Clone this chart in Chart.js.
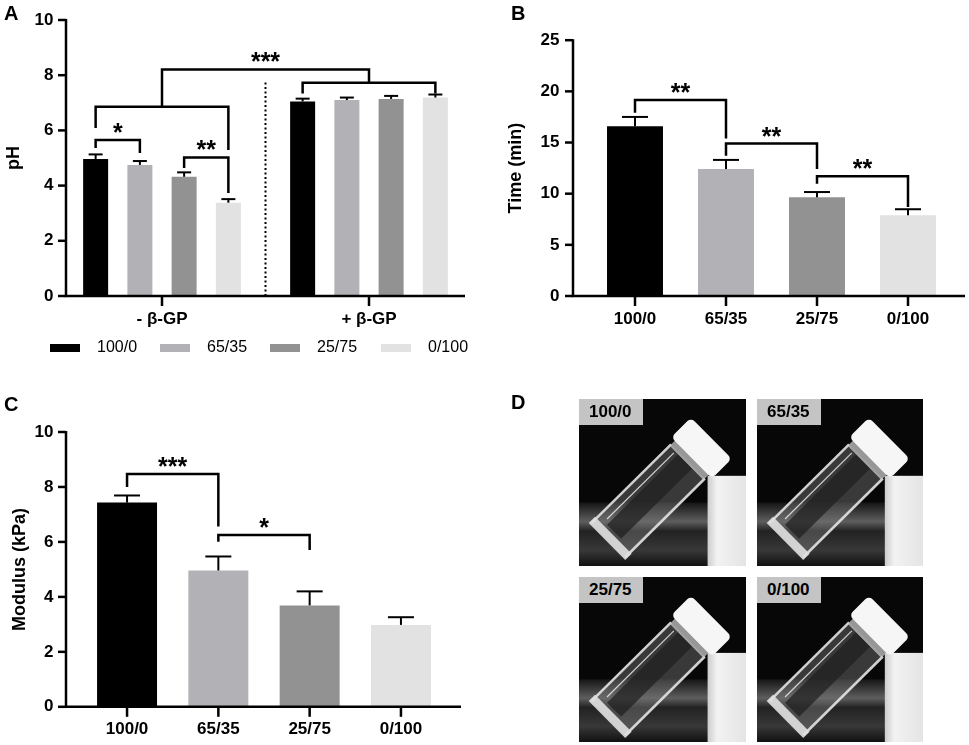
<!DOCTYPE html>
<html>
<head>
<meta charset="utf-8">
<script src="https://cdn.jsdelivr.net/npm/chart.js@4.4.0/dist/chart.umd.min.js"></script>
<style>
  body { margin: 0; background: #fff; }
  #fig { position: relative; width: 969px; height: 745px; overflow: hidden; font-family: 'Liberation Sans', Arial, sans-serif; }
  canvas { position: absolute; }
  .letter { position: absolute; font-weight: bold; font-size: 20px; line-height: 20px; color: #000; }
  .tag { position: absolute; background: #c4c4c4; font-weight: bold; font-size: 17px; line-height: 26px; height: 26px; width: 64px; padding-left: 10px; box-sizing: border-box; color: #000; }
</style>
</head>
<body>
<div id="fig">
  <canvas id="chartA" width="480" height="375" style="left:0;top:0"></canvas>
  <canvas id="chartB" width="489" height="375" style="left:480px;top:0"></canvas>
  <canvas id="chartC" width="480" height="365" style="left:0;top:380px"></canvas>
  <canvas id="photos" width="360" height="355" style="left:570px;top:390px"></canvas>
  <div class="letter" style="left:4px;top:3px">A</div>
  <div class="letter" style="left:511px;top:3px">B</div>
  <div class="letter" style="left:4px;top:394px">C</div>
  <div class="letter" style="left:511px;top:392px">D</div>
  <div class="tag" style="left:579px;top:399px">100/0</div>
  <div class="tag" style="left:757px;top:399px">65/35</div>
  <div class="tag" style="left:579px;top:577px">25/75</div>
  <div class="tag" style="left:757px;top:577px">0/100</div>
</div>
<script>
const FONT = "'Liberation Sans', Arial, sans-serif";

// groups (chitosan / other ratio) and their bar colours
const ratios = ["100/0", "65/35", "25/75", "0/100"];
const barColors = ["#000000", "#b2b2b6", "#929292", "#e2e2e2"];

// A: pH without / with beta-GP, one row per ratio
const phGroups = ["- β-GP", "+ β-GP"];
const phMean = [[4.96, 7.05], [4.75, 7.10], [4.32, 7.14], [3.38, 7.19]];
const phErr = [[0.17, 0.10], [0.14, 0.09], [0.16, 0.11], [0.13, 0.11]];

// B: gelation time (min)
const timeMean = [16.6, 12.4, 9.66, 7.88];
const timeErr = [0.9, 0.9, 0.5, 0.6];

// C: modulus (kPa)
const modMean = [7.43, 4.96, 3.69, 2.98];
const modErr = [0.26, 0.51, 0.51, 0.28];

// significance brackets; an end is [ratio, group] for a single bar or a category index
const phBrackets = [
  { a: [0, 0], b: [1, 0], y: 5.65, legA: 5.36, legB: 5.18, mark: "*" },
  { a: [2, 0], b: [3, 0], y: 5.02, legA: 4.64, legB: 3.73, mark: "**" },
  { a: [0, 0], b: [3, 0], y: 6.86, legA: 6.09, legB: 5.29, mark: "" },
  { a: [0, 1], b: [3, 1], y: 7.73, legA: 7.34, legB: 7.34, mark: "" },
  { a: 0, b: 1, y: 8.21, legA: 6.86, legB: 7.73, mark: "***" }
];
const timeBrackets = [
  { a: 0, b: 1, y: 19.15, legA: 17.9, legB: 15.4, mark: "**" },
  { a: 1, b: 2, y: 14.9, legA: 13.7, legB: 12.4, mark: "**" },
  { a: 2, b: 3, y: 11.71, legA: 10.96, legB: 8.7, mark: "**" }
];
const modBrackets = [
  { a: 0, b: 1, y: 8.47, legA: 8.0, legB: 6.56, mark: "***" },
  { a: 1, b: 2, y: 6.25, legA: 6.01, legB: 5.71, mark: "*" }
];

function seg(ctx, x1, y1, x2, y2) {
  ctx.beginPath();
  ctx.moveTo(x1, y1);
  ctx.lineTo(x2, y2);
  ctx.stroke();
}

// draws the prism-style axes, error bars, brackets, titles and legend
const panelPlugin = {
  id: "panel",
  afterDatasetsDraw(chart, args, o) {
    const ctx = chart.ctx;
    const xs = chart.scales.x, ys = chart.scales.y, area = chart.chartArea;
    const px = p => Array.isArray(p) ? chart.getDatasetMeta(p[0]).data[p[1]].x : xs.getPixelForValue(p);
    ctx.save();
    ctx.strokeStyle = "#000";
    ctx.fillStyle = "#000";

    // error bars (upper only)
    ctx.lineWidth = 2;
    chart.data.datasets.forEach((ds, di) => {
      chart.getDatasetMeta(di).data.forEach((el, i) => {
        const top = ys.getPixelForValue(ds.data[i] + ds.err[i]);
        seg(ctx, el.x, el.y, el.x, top);
        seg(ctx, el.x - o.cap / 2, top, el.x + o.cap / 2, top);
      });
    });

    // axes
    const y0 = ys.getPixelForValue(0);
    ctx.lineWidth = 2.5;
    ctx.beginPath();
    ctx.moveTo(o.axisX, ys.getPixelForValue(ys.max) - 1);
    ctx.lineTo(o.axisX, y0);
    ctx.lineTo(o.axisEnd, y0);
    ctx.stroke();
    ys.ticks.forEach(t => {
      const yy = ys.getPixelForValue(t.value);
      seg(ctx, o.axisX - 8, yy, o.axisX, yy);
    });
    chart.data.labels.forEach((l, i) => {
      const xx = xs.getPixelForValue(i);
      seg(ctx, xx, y0, xx, y0 + 10);
    });

    // dotted divider
    if (o.divider) {
      const xx = (xs.getPixelForValue(0) + xs.getPixelForValue(1)) / 2;
      ctx.save();
      ctx.lineWidth = 2;
      ctx.setLineDash([2, 2.5]);
      seg(ctx, xx, y0, xx, ys.getPixelForValue(o.divider));
      ctx.restore();
    }

    // significance brackets
    ctx.lineWidth = 2.5;
    ctx.font = "bold 25px " + FONT;
    ctx.textAlign = "center";
    ctx.textBaseline = "alphabetic";
    o.brackets.forEach(b => {
      const xa = px(b.a), xb = px(b.b), yy = ys.getPixelForValue(b.y);
      ctx.beginPath();
      ctx.moveTo(xa, ys.getPixelForValue(b.legA));
      ctx.lineTo(xa, yy);
      ctx.lineTo(xb, yy);
      ctx.lineTo(xb, ys.getPixelForValue(b.legB));
      ctx.stroke();
      if (b.mark) ctx.fillText(b.mark, (xa + xb) / 2, yy + 1);
    });

    // y-axis title
    ctx.save();
    ctx.font = "bold 18px " + FONT;
    ctx.translate(o.titleX, (area.top + area.bottom) / 2);
    ctx.rotate(-Math.PI / 2);
    ctx.textBaseline = "middle";
    ctx.fillText(o.title, 0, 0);
    ctx.restore();

    // legend
    if (o.legend) {
      ctx.font = "16px " + FONT;
      ctx.textAlign = "left";
      ctx.textBaseline = "middle";
      chart.data.datasets.forEach((ds, i) => {
        const lx = o.legend.x[i];
        ctx.fillStyle = ds.backgroundColor;
        ctx.fillRect(lx, o.legend.y - 4, 30, 8);
        ctx.fillStyle = "#000";
        ctx.fillText(ds.label, lx + 47, o.legend.y);
      });
    }
    ctx.restore();
  }
};

function makeChart(id, labels, datasets, opt) {
  return new Chart(document.getElementById(id), {
    type: "bar",
    data: { labels: labels, datasets: datasets },
    options: {
      responsive: false,
      animation: false,
      categoryPercentage: opt.catPct,
      barPercentage: opt.barPct,
      layout: { padding: { left: 0, right: opt.padRight, top: opt.top, bottom: 0 } },
      plugins: { legend: { display: false }, tooltip: { enabled: false }, panel: opt.panel },
      scales: {
        x: {
          grid: { display: false, drawTicks: false },
          border: { display: false },
          ticks: { color: "#000", font: { family: FONT, size: 17, weight: "bold" }, padding: opt.xPad, maxRotation: 0, autoSkip: false },
          afterFit: s => { s.height = opt.xHeight; }
        },
        y: {
          min: 0,
          max: opt.max,
          grid: { display: false, drawTicks: false },
          border: { display: false },
          ticks: { stepSize: opt.step, color: "#000", font: { family: FONT, size: 17, weight: "bold" }, padding: opt.yPad },
          afterFit: s => { s.width = opt.yWidth; }
        }
      }
    },
    plugins: [panelPlugin]
  });
}

// A
makeChart("chartA", phGroups,
  ratios.map((r, i) => ({ label: r, data: phMean[i], err: phErr[i], backgroundColor: barColors[i] })),
  { catPct: 0.855, barPct: 0.565, padRight: 7.5, top: 20, xHeight: 79, xPad: 13, yWidth: 58.5, yPad: 5, max: 10, step: 2,
    panel: { cap: 14, axisX: 66, axisEnd: 465, divider: 7.83, brackets: phBrackets, title: "pH", titleX: 14,
             legend: { y: 348, x: [50, 160, 270, 381] } } });

// B
makeChart("chartB", ratios,
  [{ label: "Time", data: timeMean, err: timeErr, backgroundColor: barColors }],
  { catPct: 1, barPct: 0.615, padRight: 15.5, top: 20, xHeight: 79, xPad: 13, yWidth: 109.5, yPad: 30, max: 25, step: 5,
    panel: { cap: 26, axisX: 93, axisEnd: 485, brackets: timeBrackets, title: "Time (min)", titleX: 36 } });

// C
makeChart("chartC", ratios,
  [{ label: "Modulus", data: modMean, err: modErr, backgroundColor: barColors }],
  { catPct: 1, barPct: 0.657, padRight: 33.4, top: 52, xHeight: 38, xPad: 12, yWidth: 81.4, yPad: 28, max: 10, step: 2,
    panel: { cap: 26, axisX: 66, axisEnd: 461, brackets: modBrackets, title: "Modulus (kPa)", titleX: 20 } });

// D: sketch of the tilted vials (photographs in the original)
function drawPhoto(ctx, x, y, w, h) {
  ctx.save();
  ctx.beginPath();
  ctx.rect(x, y, w, h);
  ctx.clip();
  ctx.fillStyle = "#070707";
  ctx.fillRect(x, y, w, h);
  const g = ctx.createLinearGradient(0, y + h * 0.62, 0, y + h);
  g.addColorStop(0, "#151515");
  g.addColorStop(0.3, "#5e5e5e");
  g.addColorStop(0.45, "#222");
  g.addColorStop(0.75, "#383838");
  g.addColorStop(1, "#111");
  ctx.fillStyle = g;
  ctx.fillRect(x, y + h * 0.62, w, h * 0.38);
  const bg = ctx.createLinearGradient(x + w * 0.77, 0, x + w, 0);
  bg.addColorStop(0, "#cdcdcd");
  bg.addColorStop(0.25, "#f2f2f2");
  bg.addColorStop(1, "#e4e4e4");
  ctx.fillStyle = bg;
  ctx.fillRect(x + w * 0.77, y + h * 0.46, w * 0.23, h * 0.54);

  ctx.translate(x + 72, y + 99);
  ctx.rotate(-0.78);
  ctx.fillStyle = "rgba(120,120,120,0.45)";
  ctx.fillRect(-60, -25, 112, 50);
  ctx.fillStyle = "rgba(30,30,30,0.7)";
  ctx.fillRect(-50, -12, 100, 20);
  ctx.strokeStyle = "rgba(235,235,235,0.85)";
  ctx.lineWidth = 2.5;
  seg(ctx, -60, -24, 52, -24);
  seg(ctx, -60, 24, 52, 24);
  ctx.lineWidth = 1.2;
  seg(ctx, -46, -16, 48, -16);
  ctx.fillStyle = "rgba(225,225,225,0.9)";
  ctx.fillRect(-62, -26, 9, 52);
  ctx.fillStyle = "rgba(200,200,200,0.75)";
  ctx.fillRect(50, -24, 8, 48);
  ctx.fillStyle = "#f6f6f6";
  ctx.beginPath();
  ctx.roundRect(57, -29, 28, 58, 5);
  ctx.fill();
  ctx.restore();
}

const pctx = document.getElementById("photos").getContext("2d");
const ox = 570, oy = 390;
drawPhoto(pctx, 579 - ox, 399 - oy, 167, 167);
drawPhoto(pctx, 757 - ox, 399 - oy, 166, 167);
drawPhoto(pctx, 579 - ox, 577 - oy, 167, 165);
drawPhoto(pctx, 757 - ox, 577 - oy, 166, 165);
</script>
</body>
</html>
